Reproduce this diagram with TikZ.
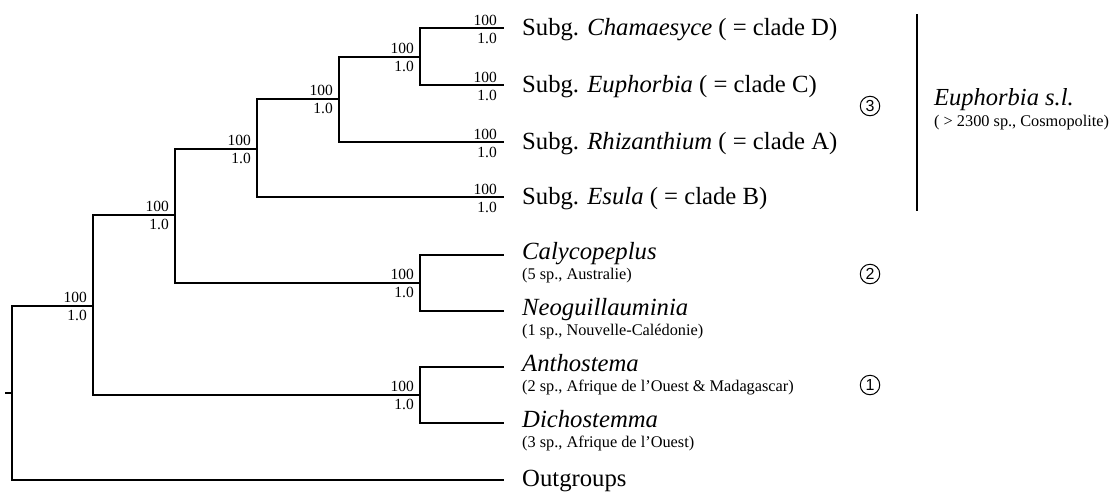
\documentclass[tikz,border=0pt]{standalone}
\usepackage{fontspec}
\setmainfont{Liberation Serif}
\newfontfamily\cnumfont{Liberation Sans}
\begin{document}
\begin{tikzpicture}[x=1pt,y=-1pt,
  branch/.style={line width=2.2pt, line cap=rect},
  sup/.style={anchor=base east, inner sep=0pt, font=\fontsize{15.5}{17}\selectfont},
  taxon/.style={anchor=base west, inner sep=0pt, font=\fontsize{24.7}{28}\selectfont},
  info/.style={anchor=base west, inner sep=0pt, font=\fontsize{16.3}{18}\selectfont},
  cnum/.style={draw, circle, line width=1pt, minimum size=19.5pt, inner sep=0pt, font=\cnumfont\fontsize{16}{16}\selectfont}]
\useasboundingbox (0,0) rectangle (1113,491);
% tree nodes
\coordinate (R) at (12,393);
\coordinate (tick) at (6,393);
\coordinate (n1) at (93,306);
\coordinate (n2) at (175,215);
\coordinate (n3) at (257,149);
\coordinate (n4) at (339,99);
\coordinate (n5) at (420,57);
\coordinate (nCN) at (420,283);
\coordinate (nAD) at (420,395);
% tips
\coordinate (t1) at (503,28);
\coordinate (t2) at (503,85);
\coordinate (t3) at (503,142);
\coordinate (t4) at (503,197);
\coordinate (t5) at (503,255);
\coordinate (t6) at (503,311);
\coordinate (t7) at (503,367);
\coordinate (t8) at (503,423);
\coordinate (t9) at (503,480);
% branches
\draw[branch] (R) -- (tick);
\draw[branch] (R) |- (n1);
\draw[branch] (R) |- (t9);
\draw[branch] (n1) |- (n2);
\draw[branch] (n1) |- (nAD);
\draw[branch] (n2) |- (n3);
\draw[branch] (n2) |- (nCN);
\draw[branch] (n3) |- (n4);
\draw[branch] (n3) |- (t4);
\draw[branch] (n4) |- (n5);
\draw[branch] (n4) |- (t3);
\draw[branch] (n5) |- (t1);
\draw[branch] (n5) |- (t2);
\draw[branch] (nCN) |- (t5);
\draw[branch] (nCN) |- (t6);
\draw[branch] (nAD) |- (t7);
\draw[branch] (nAD) |- (t8);
% support values at internal nodes
\foreach \n/\x/\y in {b1/93/306, b2/175/215, b3/257/149, b4/339/99, b5/420/57, bCN/420/283, bAD/420/395}{
  \node[sup] (\n u) at (\x-6,\y-4) {100};
  \node[sup] (\n l) at (\x-6,\y+14) {1.0};
}
% support values at tips
\foreach \n/\y in {c1/28, c2/85, c3/142, c4/197}{
  \node[sup] (\n u) at (497,\y-3) {100};
  \node[sup] (\n l) at (497,\y+15) {1.0};
}
% taxa
\node[taxon] (L1) at (522,35) {Subg. \textit{Chamaesyce} ( = clade D)};
\node[taxon] (L2) at (522,92) {Subg. \textit{Euphorbia} ( = clade C)};
\node[taxon] (L3) at (522,149) {Subg. \textit{Rhizanthium} ( = clade A)};
\node[taxon] (L4) at (522,204) {Subg. \textit{Esula} ( = clade B)};
\node[taxon] (L5) at (522,259.5) {\textit{Calycopeplus}};
\node[info] (I5) at (522,279) {(5 sp., Australie)};
\node[taxon] (L6) at (522,315.5) {\textit{Neoguillauminia}};
\node[info] (I6) at (522,335) {(1 sp., Nouvelle-Calédonie)};
\node[taxon] (L7) at (522,371.5) {\textit{Anthostema}};
\node[info] (I7) at (522,391) {(2 sp., Afrique de l’Ouest \& Madagascar)};
\node[taxon] (L8) at (522,427.5) {\textit{Dichostemma}};
\node[info] (I8) at (522,447) {(3 sp., Afrique de l’Ouest)};
\node[taxon] (L9) at (522,486) {Outgroups};
% clade numbers
\node[cnum] (c3n) at (870,106) {3};
\node[cnum] (c2n) at (870,274) {2};
\node[cnum] (c1n) at (870,385) {1};
% Euphorbia s.l. bracket
\coordinate (bt) at (917,14);
\coordinate (bb) at (917,211);
\draw[line width=2.6pt] (bt) -- (bb);
\node[anchor=base west, inner sep=0pt, font=\fontsize{24.5}{26}\selectfont] (E) at (934,105) {\textit{Euphorbia s.l.}};
\node[info] (EI) at (934,126) {( \textgreater{} 2300 sp., Cosmopolite)};
\end{tikzpicture}
\end{document}
